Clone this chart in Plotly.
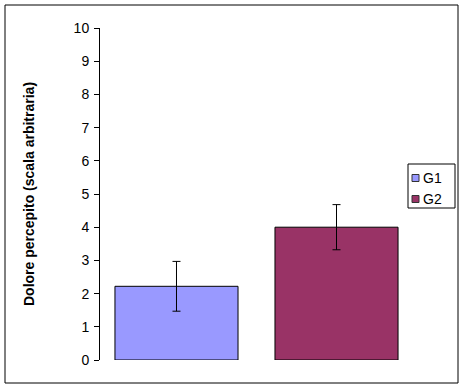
import plotly.graph_objects as go

groups = ["G1", "G2"]
means = [2.22, 4.0]
errors = [0.75, 0.68]
colors = ["#9999FF", "#993366"]
y_ticks = [0, 1, 2, 3, 4, 5, 6, 7, 8, 9, 10]
y_title = "Dolore percepito (scala arbitraria)"

fig = go.Figure()
for g, m, e, c in zip(groups, means, errors, colors):
    fig.add_trace(go.Bar(
        x=[g], y=[m], name=g,
        marker=dict(color=c, line=dict(color="black", width=1)),
        error_y=dict(type="data", array=[e], visible=True, color="black", thickness=1, width=4),
    ))

W, H = 465, 390
L, R, T, B = 100, 52, 28, 30
pw = W - L - R
ph = H - T - B


def px(x):
    return (x - L) / pw


def py(y):
    return (H - B - y) / ph


shapes = [
    # outer chart border
    dict(type="rect", xref="paper", yref="paper",
         x0=px(5), x1=px(458), y0=py(383), y1=py(5),
         line=dict(color="black", width=1), fillcolor="rgba(0,0,0,0)", layer="below"),
    # legend box
    dict(type="rect", xref="paper", yref="paper",
         x0=px(408), x1=px(455), y0=py(208), y1=py(164),
         line=dict(color="black", width=1), fillcolor="white", layer="above"),
]
annotations = []
legend_rows = [178, 199]
for g, c, yc in zip(groups, colors, legend_rows):
    shapes.append(dict(type="rect", xref="paper", yref="paper",
                       x0=px(412), x1=px(419), y0=py(yc + 3.5), y1=py(yc - 3.5),
                       line=dict(color="#333333", width=1), fillcolor=c, layer="above"))
    annotations.append(dict(text=g, xref="paper", yref="paper", x=px(421), y=py(yc),
                            xanchor="left", yanchor="middle", showarrow=False,
                            font=dict(size=14, color="black")))

fig.update_layout(
    width=W, height=H,
    margin=dict(l=L, r=R, t=T, b=B, pad=0),
    paper_bgcolor="white", plot_bgcolor="white",
    font=dict(family="Liberation Sans, Arial, sans-serif", size=14, color="black"),
    bargap=0.231,
    showlegend=False,
    xaxis=dict(
        showticklabels=False, showline=False, showgrid=False, zeroline=False,
        ticks="", range=[-0.478, 1.478], fixedrange=True,
    ),
    yaxis=dict(
        range=[0, 10], tickvals=y_ticks, showgrid=False, zeroline=False,
        showline=True, linecolor="black", linewidth=1,
        ticks="outside", ticklen=5, tickcolor="black", tickwidth=1,
        ticklabelstandoff=2,
        tickfont=dict(size=14, color="black"),
        title=dict(text="<b>" + y_title + "</b>", font=dict(size=14), standoff=35),
    ),
    shapes=shapes,
    annotations=annotations,
)

fig.write_html("out.html", config={"displayModeBar": False},
               post_script="document.body.style.margin='0';")
